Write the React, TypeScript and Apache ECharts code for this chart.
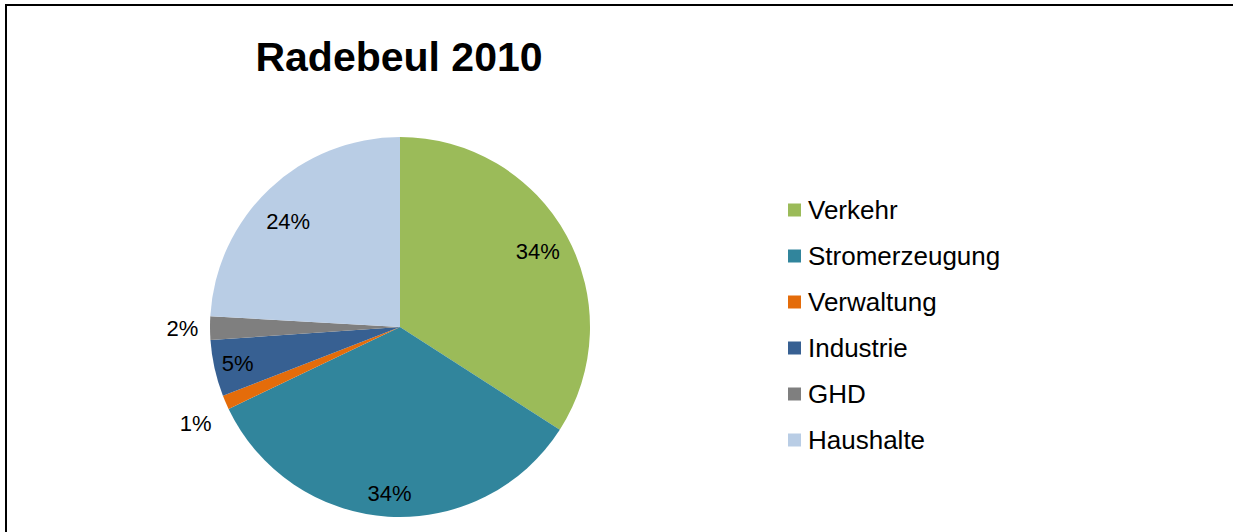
import React, { useEffect, useRef } from "react";
import * as echarts from "echarts";

const TITLE = "Radebeul 2010";
const categories = ["Verkehr", "Stromerzeugung", "Verwaltung", "Industrie", "GHD", "Haushalte"];
const values = [34.1, 33.8, 1.2, 4.8, 2.0, 24.1];
const colors = ["#9BBB59", "#31859C", "#E46C0A", "#376092", "#7F7F7F", "#B9CDE5"];

const FONT = "'Liberation Sans', Arial, sans-serif";
const CX = 400;
const CY = 327;
const R = 190;

function labelRing(r0: number, r1: number, show: string[], offset: number[] = [0, 0]) {
  return {
    type: "pie",
    silent: true,
    center: [CX, CY],
    radius: [r0, r1],
    startAngle: 90,
    clockwise: true,
    legendHoverLink: false,
    emphasis: { disabled: true },
    itemStyle: { color: "rgba(0,0,0,0)", borderWidth: 0 },
    labelLine: { show: false },
    tooltip: { show: false },
    data: categories.map((name, i) => ({
      name: name + "__lbl",
      value: values[i],
      label: {
        show: show.includes(name),
        position: "inside",
        offset,
        formatter: (p: any) => Math.round(p.percent) + "%",
        fontFamily: FONT,
        fontSize: 22,
        color: "#000",
      },
    })),
  };
}

export default function App() {
  const ref = useRef<HTMLDivElement>(null);
  useEffect(() => {
    if (!ref.current) return;
    const chart = echarts.init(ref.current, undefined, { renderer: "svg" });
    chart.setOption({
      animation: false,
      backgroundColor: "#ffffff",
      color: colors,
      graphic: [
        {
          type: "text",
          x: 399,
          y: 57,
          style: {
            text: TITLE,
            font: `bold 41px ${FONT}`,
            fill: "#000",
            textAlign: "center",
            textVerticalAlign: "middle",
          },
        },
        {
          type: "line",
          shape: { x1: 5, y1: 5, x2: 1233, y2: 5 },
          style: { stroke: "#000", lineWidth: 2 },
        },
        {
          type: "line",
          shape: { x1: 6, y1: 4, x2: 6, y2: 532 },
          style: { stroke: "#000", lineWidth: 2 },
        },
      ],
      legend: {
        orient: "vertical",
        left: 788,
        top: 197,
        padding: 0,
        itemWidth: 13,
        itemHeight: 13,
        itemGap: 20,
        icon: "rect",
        data: categories,
        textStyle: { fontFamily: FONT, fontSize: 26, color: "#000", lineHeight: 26, padding: [0, 0, 0, 2] },
        selectedMode: false,
      },
      series: [
        {
          type: "pie",
          center: [CX, CY],
          radius: [0, R],
          startAngle: 90,
          clockwise: true,
          label: { show: false },
          labelLine: { show: false },
          emphasis: { disabled: true },
          itemStyle: { borderWidth: 0 },
          data: categories.map((name, i) => ({ name, value: values[i] })),
        },
        labelRing(R * 0.62, R, ["Verkehr"]),
        labelRing(R * 0.58, R * 0.98, ["Haushalte"], [-8, 4]),
        labelRing(R * 0.72, R, ["Stromerzeugung", "Industrie"]),
        labelRing(R * 1.08, R * 1.18, ["GHD"]),
        labelRing(R * 1.13, R * 1.25, ["Verwaltung"], [6, 6]),
      ],
    });
    return () => chart.dispose();
  }, []);
  return (
    <div
      ref={ref}
      style={{ position: "fixed", left: 0, top: 0, width: 1233, height: 532 }}
    />
  );
}
